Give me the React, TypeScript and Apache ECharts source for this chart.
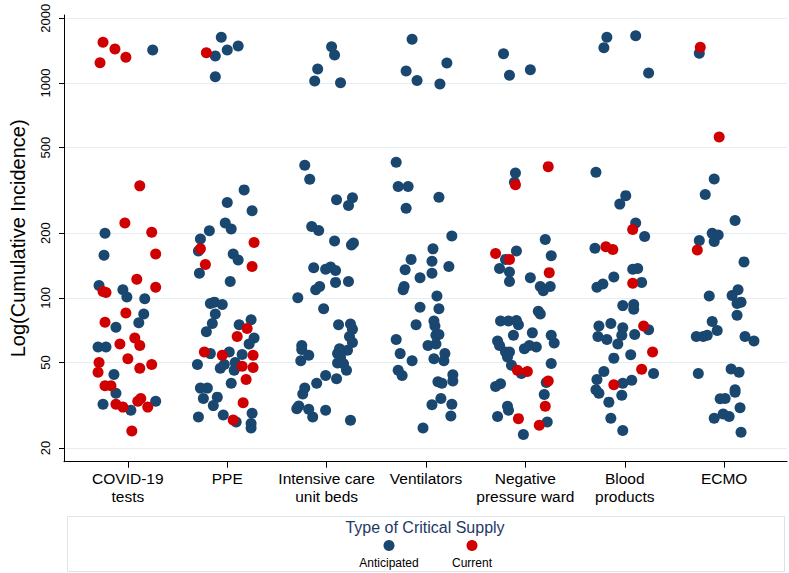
import React, { useEffect, useRef } from "react";
import * as echarts from "echarts";

// ---------- data ----------
const categories = [
  "COVID-19\ntests",
  "PPE",
  "Intensive care\nunit beds",
  "Ventilators",
  "Negative\npressure ward",
  "Blood\nproducts",
  "ECMO",
];
const yTickValues = [20, 50, 100, 200, 500, 1000, 2000];
const seriesNames = ["Anticipated", "Current"];
const legendTitle = "Type of Critical Supply";
const yTitle = "Log(Cumulative Incidence)";

// each point: [horizontal jitter within category, cumulative incidence]
const covidAnticipated = [[-0.23,200],[-0.24,158],[-0.29,114],[-0.05,109],[-0.01,101],[0.17,99],[0.16,84],[0.11,76.5],[-0.12,73],[-0.30,59],[-0.22,59],[-0.14,44],[-0.12,36],[-0.25,32],[0.03,30],[0.28,33],[0.25,1424]];
const covidCurrent = [[0.12,332],[-0.03,223],[0.24,202],[0.28,160],[0.09,122],[-0.25,107],[-0.22,106],[0.28,112],[-0.02,85],[-0.23,77],[0.07,65],[0.12,60],[-0.08,61],[0.0,52],[-0.29,50],[-0.30,45],[0.12,47],[0.24,49],[-0.23,39],[-0.17,39],[-0.12,32],[-0.05,31],[0.10,33],[0.13,34],[0.20,31],[0.04,24],[-0.25,1546],[-0.13,1439],[-0.02,1317],[-0.28,1243]];

const ppeAnticipated = [[0.17,318],[0.0,278],[0.25,254],[-0.02,223],[0.04,209],[-0.18,205],[-0.27,188],[-0.29,165],[0.06,160],[0.11,150],[-0.28,130],[0.03,119],[-0.17,94],[-0.13,95.5],[-0.05,93],[-0.12,84],[-0.15,76],[-0.21,69.5],[0.12,75],[0.24,79],[0.27,65],[0.22,61],[-0.17,55],[0.02,56],[0.15,54.5],[-0.30,49],[-0.03,49],[-0.07,47],[0.08,50],[0.07,46],[0.04,40],[-0.27,38],[-0.20,38],[-0.24,34],[-0.10,34.5],[-0.14,31.5],[-0.29,27.9],[-0.04,28.5],[0.25,29],[0.09,26.4],[0.24,26],[0.24,24.8],[-0.06,1632],[-0.12,1335],[0.0,1424],[0.11,1486],[-0.12,1070]];
const ppeCurrent = [[0.27,181],[-0.27,169],[-0.22,143],[0.25,140],[0.20,72],[0.10,66],[-0.23,56],[-0.05,54],[0.26,54],[0.15,48],[0.26,47.4],[0.19,41.7],[0.16,32.5],[0.06,27],[-0.21,1383]];

const icuAnticipated = [[-0.22,414],[-0.17,356],[0.10,286],[0.26,292],[0.22,269],[-0.15,215],[-0.08,206],[0.08,184],[0.25,176],[0.27,180],[-0.13,138],[-0.01,136],[0.04,139],[0.09,134],[0.09,118],[0.22,119],[-0.11,109],[-0.07,113],[-0.29,100],[-0.03,89],[0.12,75],[0.24,75.5],[0.26,71.5],[0.23,66],[0.26,62],[-0.25,60],[-0.25,57.5],[-0.18,54],[-0.26,51],[0.13,58],[0.21,57],[0.11,55],[0.14,53],[0.11,49.7],[0.17,49.3],[0.20,46],[-0.01,43.5],[0.10,42],[-0.10,40],[-0.22,38],[-0.24,35.7],[-0.30,30.5],[-0.28,31.4],[-0.18,30.3],[-0.14,27.9],[-0.01,30],[0.24,26.9],[0.05,1476],[0.08,1349],[-0.09,1161],[-0.12,1021],[0.14,1002]];
const icuCurrent: number[][] = [];

const ventAnticipated = [[-0.30,428],[-0.28,330],[-0.18,330],[0.13,294],[-0.20,261],[0.26,194],[0.07,169],[-0.15,151],[0.06,148],[-0.21,135],[0.23,140],[0.06,130],[-0.06,124],[-0.22,113],[-0.23,109],[0.11,102],[-0.06,90.5],[0.13,89],[-0.10,75],[0.08,78],[0.09,74],[0.10,67],[0.13,67.5],[-0.30,64],[0.02,60],[0.10,61],[-0.26,55],[-0.14,51],[0.08,52],[0.19,55],[0.18,51],[-0.28,46],[-0.24,43.5],[0.27,43.8],[0.27,41],[0.12,40.7],[0.16,40],[0.15,34],[0.06,31.8],[0.26,32],[0.25,28.2],[-0.03,24.8],[-0.14,1596],[-0.20,1138],[-0.09,1026],[0.14,989],[0.21,1239]];
const ventCurrent: number[][] = [];

const negAnticipated = [[-0.10,381],[-0.11,345],[0.20,187],[-0.09,165],[-0.20,151],[0.26,157],[-0.26,137],[-0.16,132],[-0.16,119],[0.05,124],[0.15,113],[0.25,113],[0.18,108],[0.13,86.7],[0.15,84],[-0.25,78],[-0.17,78],[-0.09,78.5],[-0.07,75],[-0.12,67],[0.07,68.7],[0.26,67],[0.29,61.6],[-0.28,63],[-0.26,60],[-0.20,56],[-0.16,56],[-0.01,58],[0.04,60],[0.11,59],[-0.18,53],[-0.14,48.6],[-0.04,44.4],[0.26,49.5],[0.21,40.4],[-0.30,38.7],[-0.25,39.8],[0.19,35.5],[-0.18,31.3],[-0.17,30],[-0.28,28],[0.22,26.4],[-0.02,23.1],[-0.22,1368],[-0.16,1086],[0.05,1153]];
const negCurrent = [[0.23,408],[-0.10,336],[-0.30,161],[-0.16,151],[0.24,131],[-0.08,46],[0.02,45.4],[0.23,41],[0.20,31.3],[-0.07,27.4],[0.14,25.5]];

const bloodAnticipated = [[-0.29,384],[0.01,299],[-0.05,273],[0.11,223],[0.20,193],[-0.30,170],[0.08,136],[0.13,137],[-0.11,125],[-0.22,116],[-0.28,112],[0.17,118],[-0.02,92],[0.09,93],[0.09,88.5],[0.24,71],[-0.26,74],[-0.14,76],[-0.02,72.5],[-0.27,66],[-0.18,64],[-0.07,61],[-0.03,67],[0.10,67.5],[-0.11,52.4],[0.06,54.3],[0.29,44.4],[-0.21,45.4],[-0.28,41.7],[-0.26,36],[-0.29,37.3],[-0.02,40],[0.07,41.3],[-0.03,35.2],[-0.16,32.7],[-0.14,27.5],[-0.02,24.1],[-0.18,1632],[-0.21,1458],[0.11,1660],[0.24,1114]];
const bloodCurrent = [[0.08,208],[-0.19,173],[-0.12,168],[0.08,117],[0.19,74],[0.28,56],[0.17,46.5],[-0.11,39.4]];

const ecmoAnticipated = [[-0.10,357],[-0.19,303],[0.11,229],[-0.12,200],[-0.06,196],[-0.10,183],[-0.25,185],[0.20,147],[-0.15,102],[0.14,109],[0.08,102.5],[0.17,95.5],[0.13,94],[0.13,83],[-0.12,77.6],[-0.07,70.5],[-0.28,66],[-0.21,66],[-0.17,67],[0.21,66],[0.30,63],[-0.26,44.4],[0.07,46.6],[0.15,45],[0.11,37.3],[0.11,36.4],[-0.04,33.9],[0.01,34],[0.16,30.8],[-0.10,27.5],[-0.01,28.8],[0.05,28],[0.17,23.7],[-0.25,1374]];
const ecmoCurrent = [[-0.27,167],[-0.05,561],[-0.24,1466]];

const anticipatedByCategory = [covidAnticipated, ppeAnticipated, icuAnticipated, ventAnticipated, negAnticipated, bloodAnticipated, ecmoAnticipated];
const currentByCategory = [covidCurrent, ppeCurrent, icuCurrent, ventCurrent, negCurrent, bloodCurrent, ecmoCurrent];

// ---------- styling ----------
const BLUE = "#1a476f";
const RED = "#d00000";
const FONT = "'Liberation Sans', Arial, Helvetica, sans-serif";

function toPoints(groups: number[][][]) {
  const out: number[][] = [];
  groups.forEach((g, ci) => {
    g.forEach(([j, v]) => out.push([ci + 1 + j, Math.log10(v)]));
  });
  return out;
}

export default function App() {
  const ref = useRef<HTMLDivElement>(null);

  useEffect(() => {
    if (!ref.current) return;
    const chart = echarts.init(ref.current, undefined, { renderer: "svg" });
    const catTicks = categories.map((_, i) => i + 1);
    const yTicks = yTickValues.map((v) => Math.log10(v));

    chart.setOption({
      animation: false,
      backgroundColor: "#ffffff",
      textStyle: { fontFamily: FONT },
      grid: { left: 63, right: 2, top: 15, bottom: 111.3 },
      xAxis: {
        type: "value",
        min: 0.3574,
        max: 7.6325,
        axisLine: { show: true, onZero: false, lineStyle: { color: "#000", width: 1 } },
        axisTick: { show: true, length: 6, customValues: catTicks, lineStyle: { color: "#000" } },
        axisLabel: {
          customValues: catTicks,
          formatter: (v: number) => categories[Math.round(v) - 1] ?? "",
          fontSize: 15.5,
          lineHeight: 18,
          color: "#000",
          margin: 8,
          fontFamily: FONT,
        },
        splitLine: { show: false },
      },
      yAxis: {
        type: "value",
        min: 1.2373,
        max: 3.3164,
        name: yTitle,
        nameLocation: "middle",
        nameGap: 36,
        nameRotate: 90,
        nameTextStyle: { fontSize: 20, color: "#000", fontFamily: FONT },
        axisLine: { show: true, onZero: false, lineStyle: { color: "#000", width: 1 } },
        axisTick: { show: true, length: 5, customValues: yTicks, lineStyle: { color: "#000" } },
        axisLabel: {
          customValues: yTicks,
          formatter: (v: number) => String(Math.round(Math.pow(10, v))),
          rotate: 90,
          fontSize: 13,
          color: "#000",
          margin: 12,
          fontFamily: FONT,
        },
        splitLine: { show: true, lineStyle: { color: "#e4edf0", width: 1 } },
      },
      series: [
        {
          name: seriesNames[0],
          type: "scatter",
          symbol: "circle",
          symbolSize: 11,
          itemStyle: { color: BLUE, opacity: 1 },
          data: toPoints(anticipatedByCategory),
        },
        {
          name: seriesNames[1],
          type: "scatter",
          symbol: "circle",
          symbolSize: 11,
          itemStyle: { color: RED, opacity: 1 },
          data: toPoints(currentByCategory),
        },
      ],
      graphic: [
        {
          type: "rect",
          shape: { x: 67.5, y: 516.5, width: 717, height: 55 },
          style: { fill: "none", stroke: "#dbe5ea", lineWidth: 1 },
          silent: true,
        },
        {
          type: "text",
          x: 425,
          y: 527,
          style: {
            text: legendTitle,
            fontSize: 16,
            fontFamily: FONT,
            fill: "#1f3864",
            align: "center",
            verticalAlign: "middle",
          },
        },
        { type: "circle", shape: { cx: 389, cy: 545.5, r: 5.5 }, style: { fill: BLUE } },
        { type: "circle", shape: { cx: 472, cy: 545.5, r: 5.5 }, style: { fill: RED } },
        {
          type: "text",
          x: 389,
          y: 563,
          style: { text: seriesNames[0], fontSize: 12, fontFamily: FONT, fill: "#000", align: "center", verticalAlign: "middle" },
        },
        {
          type: "text",
          x: 472,
          y: 563,
          style: { text: seriesNames[1], fontSize: 12, fontFamily: FONT, fill: "#000", align: "center", verticalAlign: "middle" },
        },
      ],
    });

    return () => chart.dispose();
  }, []);

  return (
    <div
      ref={ref}
      style={{ position: "fixed", left: 0, top: 0, width: 789, height: 573, background: "#fff" }}
    />
  );
}
